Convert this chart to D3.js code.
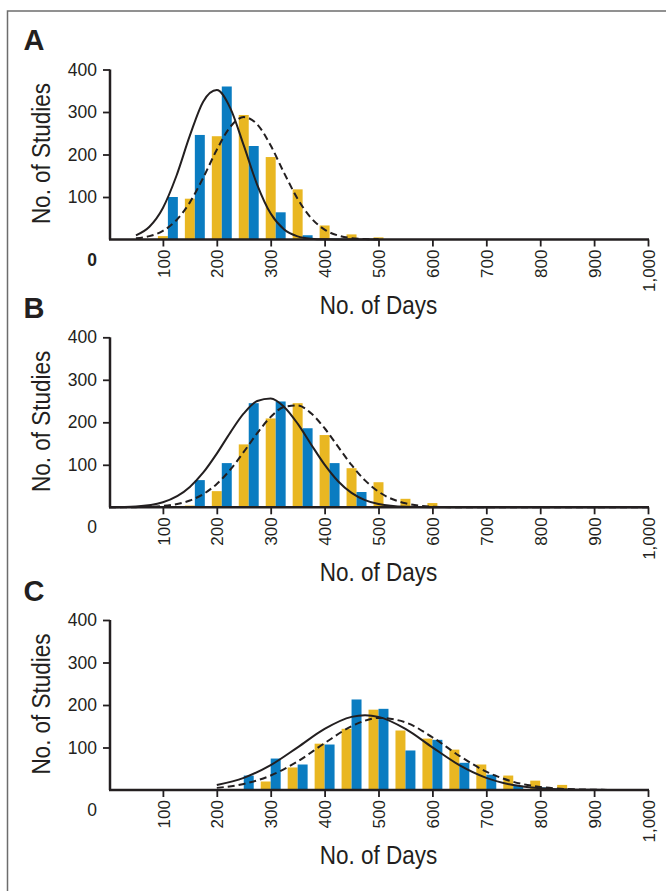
<!DOCTYPE html>
<html><head><meta charset="utf-8">
<script src="https://cdn.jsdelivr.net/npm/d3@7"></script>
<style>body{margin:0;background:#fff}svg{display:block}</style>
</head><body>
<svg id="c" width="666" height="891"></svg>
<script>
// ---------- data ----------
const panelLabels = ["A", "B", "C"];
const xTickValues = [100, 200, 300, 400, 500, 600, 700, 800, 900, 1000];
const yTickValues = [100, 200, 300, 400];
const xTitle = "No. of Days";
const yTitle = "No. of Studies";

// Panel A histogram
const binsA   = [100, 150, 200, 250, 300, 350, 400, 450, 500];
const yellowA = [8, 96, 243, 293, 194, 118, 33, 12, 5];
const blueA   = [100, 246, 360, 220, 64, 10, 2, 1, 0];
// Panel A fitted curves
const curveXA   = [50, 75, 100, 125, 150, 175, 200, 225, 250, 275, 300, 325, 350, 375, 400, 425, 450, 475, 500];
const solidA    = [9.9, 30.1, 74.3, 149.4, 244.3, 324.9, 351.5, 309.2, 221.3, 128.8, 61, 23.5, 7.4, 1.9, 0.4, 0.1, 0, 0, 0];
const dashedA   = [2.7, 7.9, 20.3, 45.3, 87.3, 145.8, 211.1, 264.9, 288, 271, 221, 156.2, 95.6, 50.7, 23.3, 9.3, 3.2, 1, 0.3];

// Panel B histogram
const binsB   = [150, 200, 250, 300, 350, 400, 450, 500, 550, 600];
const yellowB = [4, 38, 148, 209, 245, 170, 92, 59, 20, 10];
const blueB   = [64, 104, 245, 249, 186, 104, 36, 3, 0, 0];
// Panel B fitted curves
const curveXB = [0, 50, 100, 150, 175, 200, 225, 250, 275, 300, 325, 350, 375, 400, 425, 450, 475, 500, 550, 600, 650, 700, 800, 900, 1000];
const solidB  = [0.2, 2.0, 12.0, 47.9, 81.9, 126.3, 175.8, 220.8, 250.2, 256, 236.2, 196.8, 147.9, 100.3, 61.4, 33.9, 16.9, 7.6, 1.1, 0.1, 0, 0, 0, 0, 0];
const dashedB = [0, 0.4, 3.2, 16, 31.1, 55, 88.6, 130.2, 174.3, 212.7, 236.4, 239.6, 221.1, 186, 142.6, 99.6, 63.4, 36.8, 9.4, 1.6, 0.2, 0, 0, 0, 0];

// Panel C histogram
const binsC   = [250, 300, 350, 400, 450, 500, 550, 600, 650, 700, 750, 800, 850];
const yellowC = [2, 20, 53, 109, 144, 189, 140, 121, 95, 60, 34, 22, 12];
const blueC   = [34, 74, 60, 107, 213, 191, 93, 118, 64, 36, 10, 6, 2];
// Panel C fitted curves
const curveXC = [200, 250, 300, 350, 400, 450, 475, 500, 550, 600, 650, 700, 750, 800, 850, 900, 950, 1000];
const solidC  = [11.6, 28.6, 58.6, 100.4, 143.8, 172.1, 176, 172.1, 143.8, 100.4, 58.6, 28.6, 11.6, 4.0, 1.1, 0.3, 0.1, 0];
const dashedC = [5.0, 14.3, 34.1, 67.2, 110.2, 150, 163.2, 169.6, 159.2, 124.1, 80.4, 43.2, 19.3, 7.2, 2.2, 0.6, 0.1, 0];

// ---------- layout ----------
const BLUE = "#0a7cc1", YELLOW = "#e9b722", INK = "#231f20";
const panels = [
  {label: panelLabels[0], bins: binsA, yellow: yellowA, blue: blueA, cx: curveXA, solid: solidA, dashed: dashedA, axisY: 239.5, shift: 9.25, boldZero: true},
  {label: panelLabels[1], bins: binsB, yellow: yellowB, blue: blueB, cx: curveXB, solid: solidB, dashed: dashedB, axisY: 507.3, shift: 9.25, boldZero: false},
  {label: panelLabels[2], bins: binsC, yellow: yellowC, blue: blueC, cx: curveXC, solid: solidC, dashed: dashedC, axisY: 790, shift: 0, boldZero: false}
];
const plotH = 170;          // px from 0 to 400
const barW = 18.5;          // bar width in days
const FONT = "'Liberation Sans', Arial, sans-serif";
const SQUEEZE = 0.9;        // condensed look for titles

const svg = d3.select("#c");
// outer frame (top and left edges visible)
svg.append("path").attr("d", "M7.5,891 L7.5,11 L666,11")
  .attr("fill", "none").attr("stroke", "#6d6d6d").attr("stroke-width", 1.5);

const x = d3.scaleLinear().domain([0, 1000]).range([109, 648]);

panels.forEach(p => {
  const y = d3.scaleLinear().domain([0, 400]).range([p.axisY, p.axisY - plotH]);
  const g = svg.append("g");

  // bars
  const bg = g.append("g");
  p.bins.forEach((b, i) => {
    const yv = p.yellow[i], bv = p.blue[i];
    if (yv > 0) bg.append("rect")
      .attr("x", x(b + p.shift - barW)).attr("width", x(b + p.shift) - x(b + p.shift - barW))
      .attr("y", y(yv)).attr("height", y(0) - y(yv)).attr("fill", YELLOW);
    if (bv > 0) bg.append("rect")
      .attr("x", x(b + p.shift)).attr("width", x(b + p.shift + barW) - x(b + p.shift))
      .attr("y", y(bv)).attr("height", y(0) - y(bv)).attr("fill", BLUE);
  });

  // curves
  const line = d3.line().x(d => x(d[0])).y(d => y(d[1])).curve(d3.curveMonotoneX);
  g.append("path").attr("d", line(p.cx.map((v, i) => [v, p.solid[i]])))
    .attr("fill", "none").attr("stroke", INK).attr("stroke-width", 2);
  g.append("path").attr("d", line(p.cx.map((v, i) => [v, p.dashed[i]])))
    .attr("fill", "none").attr("stroke", INK).attr("stroke-width", 2)
    .attr("stroke-dasharray", "7,4");

  // x axis
  const xa = g.append("g").attr("transform", `translate(0,${p.axisY})`)
    .call(d3.axisBottom(x).tickValues(xTickValues).tickSize(7).tickSizeOuter(0)
      .tickFormat(d3.format(",")));
  xa.select(".domain").attr("stroke", INK).attr("stroke-width", 2.5)
    .attr("d", `M${x(0)},0H${x(1000) + 1}`);
  xa.selectAll(".tick line").attr("stroke", INK).attr("stroke-width", 1.8);
  xa.selectAll(".tick text")
    .attr("transform", "rotate(-90)")
    .attr("x", -10).attr("y", 0).attr("dy", "0.36em")
    .attr("text-anchor", "end")
    .attr("font-family", FONT).attr("font-size", 17).attr("fill", INK);

  // y axis
  const ya = g.append("g").attr("transform", `translate(${x(0) + 1},0)`)
    .call(d3.axisLeft(y).tickValues(yTickValues).tickSize(7).tickSizeOuter(0));
  ya.select(".domain").attr("stroke", INK).attr("stroke-width", 2.5)
    .attr("d", `M0,${y(400)}V${y(0)}`);
  ya.selectAll(".tick line").attr("stroke", INK).attr("stroke-width", 1.8);
  ya.selectAll(".tick text").attr("x", -13)
    .attr("font-family", FONT).attr("font-size", 17.5).attr("fill", INK);

  // zero label below the axis corner
  g.append("text").attr("x", 97).attr("y", p.axisY + 26)
    .attr("text-anchor", "end").attr("font-family", FONT).attr("font-size", 17.5)
    .attr("font-weight", p.boldZero ? "bold" : "normal").attr("fill", INK).text("0");

  // titles
  g.append("text").attr("transform", `translate(${x(500)},${p.axisY + 74}) scale(${SQUEEZE},1)`)
    .attr("text-anchor", "middle").attr("font-family", FONT).attr("font-size", 25)
    .attr("fill", INK).text(xTitle);
  g.append("text").attr("transform", `translate(49.5,${p.axisY - plotH / 2 - 1}) rotate(-90) scale(${SQUEEZE},1)`)
    .attr("text-anchor", "middle").attr("font-family", FONT).attr("font-size", 25)
    .attr("fill", INK).text(yTitle);

  // panel letter
  g.append("text").attr("x", 23.5).attr("y", p.axisY - 189.5)
    .attr("font-family", FONT).attr("font-size", 29).attr("font-weight", "bold")
    .attr("fill", INK).text(p.label);
});
</script>
</body></html>
